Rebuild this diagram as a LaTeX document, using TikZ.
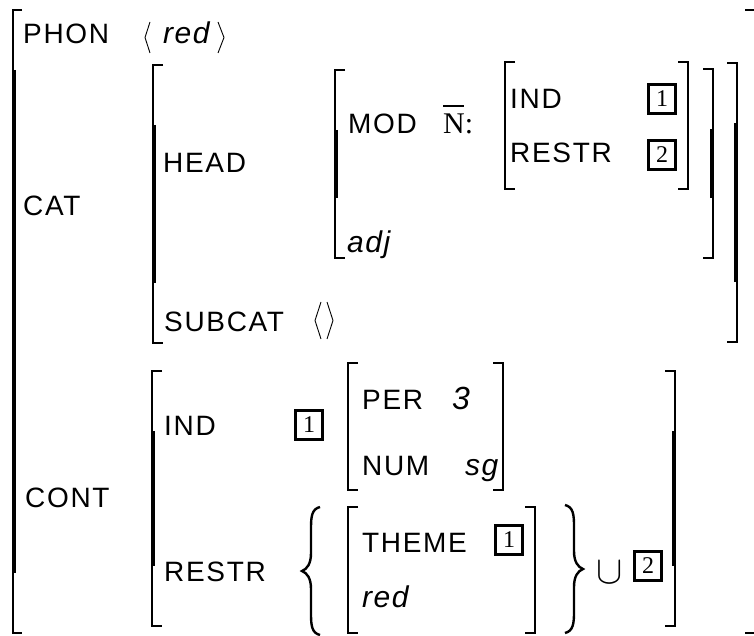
\documentclass[tikz,border=0pt]{standalone}
\usepackage{fontspec}
\setmainfont{Liberation Sans}
\newfontfamily\avmsans{Liberation Sans}[LetterSpace=6]
\newfontfamily\avmital{Liberation Sans}[LetterSpace=5]
\newfontfamily\avmserif{Liberation Serif}
\tikzset{
  x=1pt, y=-1pt,
  lbl/.style={anchor=base west, inner sep=0pt, font=\avmsans\fontsize{28}{30}\selectfont},
  itl/.style={anchor=base west, inner sep=0pt, font=\avmital\itshape\fontsize{30}{32}\selectfont},
  serifN/.style={anchor=base west, inner sep=0pt, font=\avmserif\fontsize{30}{32}\selectfont},
  tagbox/.style={minimum width=27pt, minimum height=28pt, inner sep=0pt, font=\avmserif\fontsize{24}{26}\selectfont},
  tagframe/.style={line width=3.2pt},
  brthin/.style={line width=1.6pt},
  brthick/.style={line width=3.6pt},
  angl/.style={line width=0.9pt},
  bracestroke/.style={line width=2.4pt},
}
% long bracket: x, top, bottom, tick dx
\newcommand\avmbrk[4]{%
  \draw[brthin] ({#1+#4},#2) -- (#1,#2) -- (#1,{#2+60});
  \draw[brthick] ({#1+#4/10},{#2+60}) -- ({#1+#4/10},{#3-60});
  \draw[brthin] (#1,{#3-60}) -- (#1,#3) -- ({#1+#4},#3);}
% short bracket
\newcommand\avmsbrk[4]{%
  \draw[brthin] ({#1+#4},#2) -- (#1,#2) -- (#1,#3) -- ({#1+#4},#3);}
% tag box: name, x, y, digit
\newcommand\avmtag[4]{%
  \node[tagbox] (#1) at (#2,#3) {#4};
  \draw[tagframe] (#1.south west) rectangle (#1.north east);}
\begin{document}
\begin{tikzpicture}
\useasboundingbox (0,0) rectangle (754,636);
\clip (0,0) rectangle (754,636);

% outer brackets
\avmbrk{13}{10}{633}{9}
\avmbrk{758}{10}{633}{-13}

% PHON row
\node[lbl] (phon) at (23,44) {PHON};
\draw[angl] (150,22) -- (145,37.5) -- (150,53);
\node[itl] (red1) at (163,44) {red};
\draw[angl] (218,22) -- (224,37.5) -- (218,53);

% CAT
\node[lbl] (cat) at (23,215) {CAT};
\avmbrk{153}{65}{343}{10}
\avmbrk{737}{63}{342}{-10}

\node[lbl] (head) at (163,173) {HEAD};
\avmbrk{335}{70}{258}{10}
\avmbrk{713}{69}{258}{-10}

\node[lbl] (mod) at (348,134) {MOD};
\node[serifN] (nbar) at (443,134) {N:};
\draw[line width=1.8pt] (443,106) -- (464,106);
\avmsbrk{505}{62}{189}{10}
\avmsbrk{688}{62}{189}{-10}
\node[lbl] (ind1) at (510,109) {IND};
\avmtag{t1a}{662}{99}{1}
\node[lbl] (restr1) at (510,163) {RESTR};
\avmtag{t2a}{662}{155}{2}

\node[itl] (adj) at (347,252) {adj};

\node[lbl] (subcat) at (164,331) {SUBCAT};
\draw[angl] (321,302) -- (315,320.5) -- (321,339);
\draw[angl] (327,302) -- (333,320.5) -- (327,339);

% CONT
\node[lbl] (cont) at (25,507) {CONT};
\avmbrk{152}{371}{626}{10}
\avmbrk{675}{371}{626}{-10}

\node[lbl] (ind2) at (164,435) {IND};
\avmtag{t1b}{309}{425}{1}
\avmsbrk{348}{363}{490}{10}
\avmsbrk{503}{363}{490}{-10}
\node[lbl] (per) at (362,409) {PER};
\node[itl, font=\avmital\itshape\fontsize{32}{34}\selectfont] (three) at (452,409) {3};
\node[lbl] (num) at (362,475) {NUM};
\node[itl] (sg) at (465,475) {sg};

\node[lbl] (restr2) at (164,581) {RESTR};
\draw[bracestroke] (320,507) .. controls (312,509) and (311,516) .. (311,528) -- (311,553)
  .. controls (311,564) and (307,569) .. (302,571)
  .. controls (307,573) and (311,578) .. (311,589) -- (311,614)
  .. controls (311,626) and (312,633) .. (320,635);
\avmsbrk{348}{507}{633}{10}
\avmsbrk{535}{507}{633}{-10}
\node[lbl] (theme) at (362,552) {THEME};
\avmtag{t1c}{509}{540}{1}
\node[itl] (red2) at (362,607) {red};
\draw[bracestroke] (565,505) .. controls (573,507) and (574,514) .. (574,526) -- (574,551)
  .. controls (574,562) and (578,567) .. (583,569)
  .. controls (578,571) and (574,576) .. (574,587) -- (574,612)
  .. controls (574,624) and (573,631) .. (565,633);
\node[font=\fontsize{20}{22}\selectfont, inner sep=0pt] (cup) at (610,573) {\scalebox{1.9}{$\cup$}};
\avmtag{t2b}{648}{566}{2}
\end{tikzpicture}
\end{document}
